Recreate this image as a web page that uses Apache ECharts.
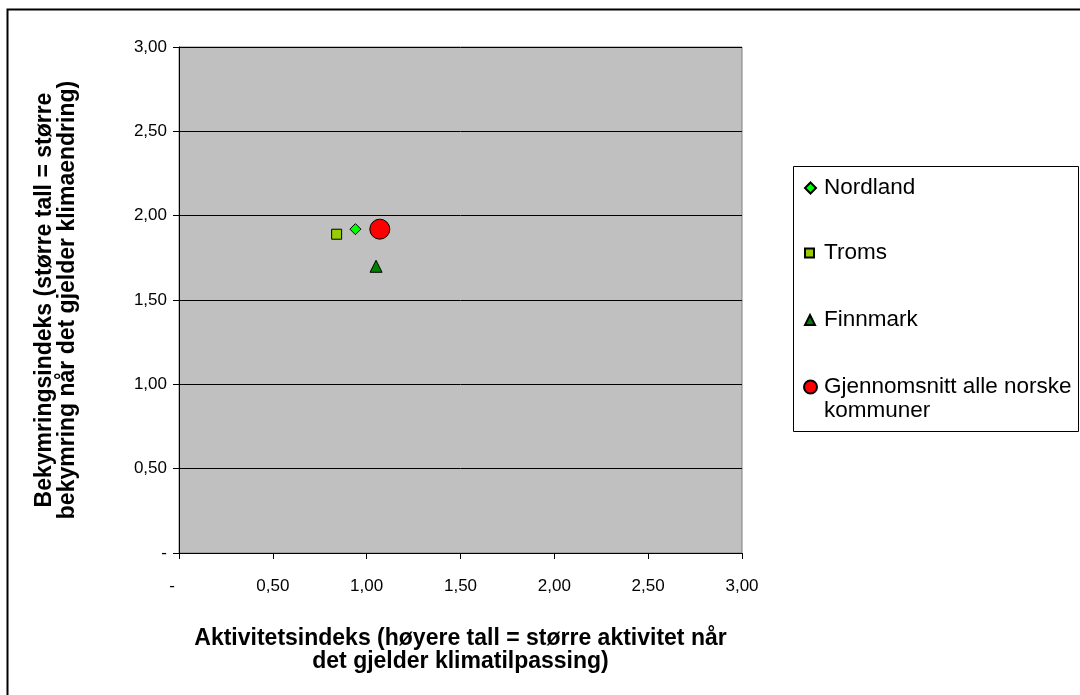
<!DOCTYPE html>
<html>
<head>
<meta charset="utf-8">
<script src="https://cdn.jsdelivr.net/npm/echarts@6/dist/echarts.min.js"></script>
<style>html,body{margin:0;padding:0;background:#fff}#c{width:1080px;height:695px}</style>
</head>
<body>
<div id="c"></div>
<script>
var seriesNames = ['Nordland', 'Troms', 'Finnmark', 'Gjennomsnitt alle norske\nkommuner'];
var nordland = [[0.94, 1.92]];
var troms = [[0.84, 1.89]];
var finnmark = [[1.05, 1.70]];
var gjennomsnitt = [[1.07, 1.92]];
var xTickLabels = ['-', '0,50', '1,00', '1,50', '2,00', '2,50', '3,00'];
var yTickLabels = ['-', '0,50', '1,00', '1,50', '2,00', '2,50', '3,00'];
var xTitle = 'Aktivitetsindeks (høyere tall = større aktivitet når\ndet gjelder klimatilpassing)';
var yTitle = 'Bekymringsindeks (større tall = større\nbekymring når det gjelder klimaendring)';

var FONT = 'Liberation Sans, Arial, sans-serif';
var FS = 23;
var TFS = 17;
var chart = echarts.init(document.getElementById('c'), null, {renderer: 'canvas'});

function legendAt(name, center, icon, size, lines) {
  var lh = 24;
  var h = lh * lines;
  return {
    data: [{name: name, icon: icon}],
    left: 804 - (size > 11 ? 1 : 0),
    top: center - h / 2,
    orient: 'vertical',
    itemWidth: size,
    itemHeight: size,
    itemGap: 0,
    padding: 0,
    selectedMode: false,
    formatter: function (n) { return lines > 1 ? '\n' + n : n; },
    textStyle: {fontFamily: FONT, fontSize: 22.5, color: '#000', lineHeight: lh,
      padding: [0, 0, 0, 19 - size - 5 + (size > 11 ? 1 : 0)]}
  };
}

var option = {
  animation: false,
  backgroundColor: '#fff',
  grid: {left: 179, top: 47, width: 563, height: 506, show: true, backgroundColor: '#C0C0C0', borderColor: '#808080', borderWidth: 1},
  xAxis: {
    type: 'value', min: 0, max: 3, interval: 0.5,
    axisLine: {onZero: false, lineStyle: {color: '#000', width: 1}},
    axisTick: {show: true, inside: false, length: 6, lineStyle: {color: '#000'}},
    splitLine: {show: false},
    axisLabel: {fontFamily: FONT, fontSize: TFS, color: '#000', margin: 25,
      formatter: function (v) {
        var i = Math.round(v / 0.5);
        return i === 0 ? '{z|' + xTickLabels[i] + '}' : xTickLabels[i];
      },
      rich: {z: {fontFamily: FONT, fontSize: TFS, color: '#000', padding: [0, 14, 0, 0]}}},
    name: xTitle, nameLocation: 'middle', nameGap: 74,
    nameTextStyle: {fontFamily: FONT, fontSize: FS, fontWeight: 'bold', color: '#000', lineHeight: 23, align: 'center'}
  },
  yAxis: {
    type: 'value', min: 0, max: 3, interval: 0.5,
    axisLine: {onZero: false, lineStyle: {color: '#000', width: 1}},
    axisTick: {show: true, inside: false, length: 6, lineStyle: {color: '#000'}},
    splitLine: {show: true, lineStyle: {color: '#000', width: 1}},
    axisLabel: {fontFamily: FONT, fontSize: TFS, color: '#000', margin: 12,
      formatter: function (v) { return yTickLabels[Math.round(v / 0.5)]; }},
    name: yTitle, nameLocation: 'middle', nameGap: 100, nameRotate: 90,
    nameTextStyle: {fontFamily: FONT, fontSize: FS, fontWeight: 'bold', color: '#000', lineHeight: 23, align: 'center'}
  },
  legend: [
    legendAt(seriesNames[0], 188, 'diamond', 11, 1),
    legendAt(seriesNames[1], 253, 'rect', 9, 1),
    legendAt(seriesNames[2], 320, 'triangle', 10, 1),
    legendAt(seriesNames[3], 387, 'circle', 13, 3)
  ],
  graphic: [
    {type: 'rect', shape: {x: 7.5, y: 9.5, width: 1200, height: 800}, style: {fill: 'none', stroke: '#000', lineWidth: 2}, z: -10, silent: true},
    {type: 'rect', shape: {x: 793.5, y: 166.5, width: 285, height: 265}, style: {fill: 'none', stroke: '#000', lineWidth: 1}, z: 10, silent: true}
  ],
  series: [
    {name: seriesNames[0], type: 'scatter', data: nordland, symbol: 'diamond', symbolSize: 11,
      itemStyle: {color: '#00FF00', borderColor: '#000', borderWidth: 1, opacity: 1}},
    {name: seriesNames[1], type: 'scatter', data: troms, symbol: 'rect', symbolSize: 10,
      itemStyle: {color: '#99CC00', borderColor: '#000', borderWidth: 1, opacity: 1}},
    {name: seriesNames[2], type: 'scatter', data: finnmark, symbol: 'triangle', symbolSize: 12,
      itemStyle: {color: '#008000', borderColor: '#000', borderWidth: 1, opacity: 1}},
    {name: seriesNames[3], type: 'scatter', data: gjennomsnitt, symbol: 'circle', symbolSize: 20,
      itemStyle: {color: '#FF0000', borderColor: '#000', borderWidth: 1, opacity: 1}}
  ]
};
chart.setOption(option);
</script>
</body>
</html>
